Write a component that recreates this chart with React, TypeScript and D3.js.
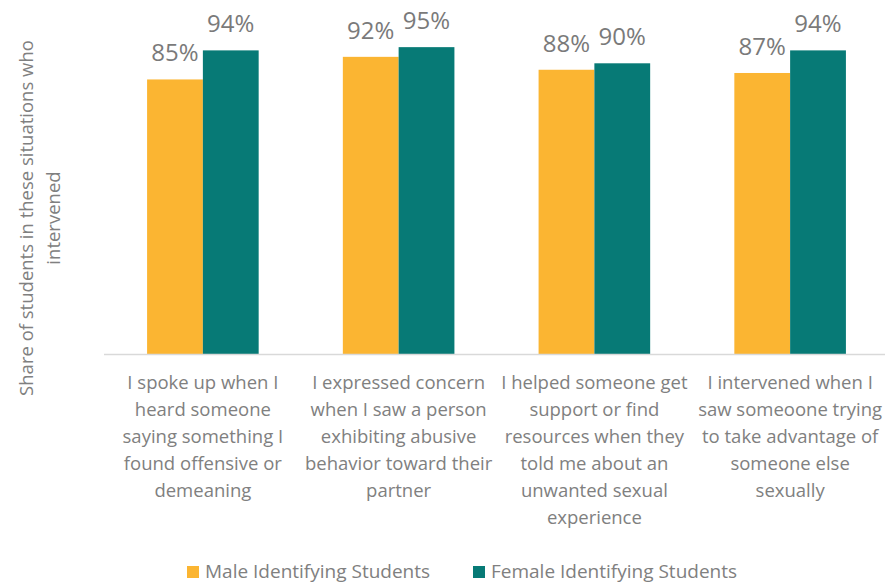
import { useEffect, useRef } from 'react';
import { select, scaleBand, scaleLinear, format } from 'd3';

const categories = ['spoke', 'expressed', 'helped', 'intervened'];
const categoryLines = [
  ['I spoke up when I', 'heard someone', 'saying something I', 'found offensive or', 'demeaning'],
  ['I expressed concern', 'when I saw a person', 'exhibiting abusive', 'behavior toward their', 'partner'],
  ['I helped someone get', 'support or find', 'resources when they', 'told me about an', 'unwanted sexual', 'experience'],
  ['I intervened when I', 'saw someoone trying', 'to take advantage of', 'someone else', 'sexually'],
];
const seriesNames = ['Male Identifying Students', 'Female Identifying Students'];
const maleValues = [0.85, 0.92, 0.88, 0.87];
const femaleValues = [0.94, 0.95, 0.9, 0.94];
const seriesColors = ['#FBB532', '#077A76'];
const yTitle = ['Share of students in these situations who', 'intervened'];

const W = 885;
const H = 584;
const FONT = '"Open Sans", sans-serif';
const GREY = '#808080';

const App = () => {
  const svgRef = useRef<SVGSVGElement>(null);

  useEffect(() => {
    if (!svgRef.current) return;
    const svg = select(svgRef.current);
    svg.selectAll('*').remove();

    const x0 = scaleBand<string>()
      .domain(categories)
      .range([105, 888])
      .paddingInner(0.43)
      .paddingOuter(0.215);
    const x1 = scaleBand<string>()
      .domain(seriesNames)
      .range([0, x0.bandwidth()]);
    const y = scaleLinear().domain([0, 1]).range([354, 31]);
    const pct = format('.0%');

    const rows = categories.map((c, i) => ({
      c,
      vals: [maleValues[i], femaleValues[i]],
    }));

    const g = svg
      .selectAll('g.cat')
      .data(rows)
      .join('g')
      .attr('class', 'cat')
      .attr('transform', (d) => `translate(${x0(d.c)},0)`);

    g.selectAll('rect')
      .data((d) => d.vals.map((v, j) => ({ v, s: seriesNames[j], j })))
      .join('rect')
      .attr('x', (d) => x1(d.s)!)
      .attr('y', (d) => y(d.v))
      .attr('width', x1.bandwidth())
      .attr('height', (d) => y(0) - y(d.v))
      .attr('fill', (d) => seriesColors[d.j]);

    g.selectAll('text.val')
      .data((d) => d.vals.map((v, j) => ({ v, s: seriesNames[j] })))
      .join('text')
      .attr('class', 'val')
      .attr('x', (d) => x1(d.s)! + x1.bandwidth() / 2)
      .attr('y', (d) => y(d.v) - 18)
      .attr('text-anchor', 'middle')
      .style('font-family', FONT)
      .style('font-size', '24px')
      .attr('fill', '#7a7a7a')
      .text((d) => pct(d.v));

    // baseline
    svg
      .append('line')
      .attr('x1', 104)
      .attr('x2', 885)
      .attr('y1', y(0) + 0.5)
      .attr('y2', y(0) + 0.5)
      .attr('stroke', '#d9d9d9')
      .attr('stroke-width', 1.5);

    // category labels
    categories.forEach((c, i) => {
      const cx = x0(c)! + x0.bandwidth() / 2;
      svg
        .append('text')
        .attr('text-anchor', 'middle')
        .style('font-family', FONT)
        .style('font-size', '18.5px')
        .attr('fill', GREY)
        .selectAll('tspan')
        .data(categoryLines[i])
        .join('tspan')
        .attr('x', cx)
        .attr('y', (_, k) => 389 + k * 27)
        .text((d) => d);
    });

    // y title
    const yt = svg
      .append('text')
      .attr('transform', 'translate(0,218) rotate(-90)')
      .attr('text-anchor', 'middle')
      .style('font-family', FONT)
      .style('font-size', '18.5px')
      .attr('fill', GREY);
    yt.selectAll('tspan')
      .data(yTitle)
      .join('tspan')
      .attr('x', 0)
      .attr('y', (_, k) => 33 + k * 27)
      .text((d) => d);

    // legend
    const legendX = [187, 473];
    seriesNames.forEach((s, j) => {
      svg
        .append('rect')
        .attr('x', legendX[j])
        .attr('y', 566)
        .attr('width', 12)
        .attr('height', 12)
        .attr('fill', seriesColors[j]);
      svg
        .append('text')
        .attr('x', legendX[j] + 18)
        .attr('y', 578)
        .style('font-family', FONT)
        .style('font-size', '19px')
        .attr('fill', GREY)
        .text(s);
    });
  }, []);

  return (
    <svg
      ref={svgRef}
      width={W}
      height={H}
      style={{ display: 'block', position: 'absolute', left: 0, top: 0 }}
    />
  );
};

export default App;
